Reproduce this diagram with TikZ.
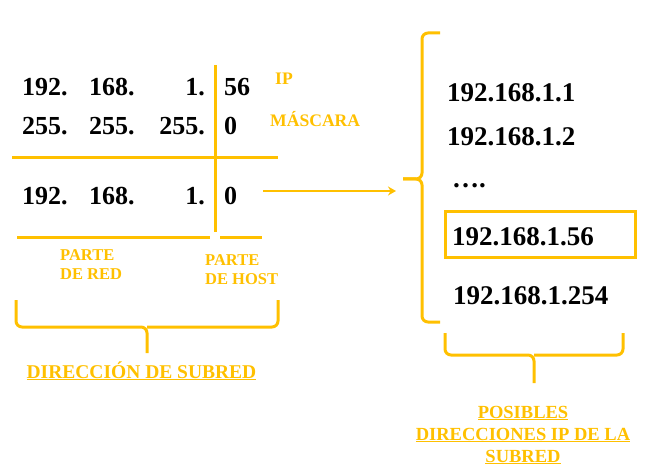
\documentclass[tikz,border=0pt]{standalone}
\usepackage{fontspec}
\setmainfont{Liberation Serif}
\usetikzlibrary{arrows.meta}
\definecolor{gold}{HTML}{FFC000}
\tikzset{
  gl/.style={draw=gold, line width=3pt},
  br/.style={draw=gold, line width=3pt, rounded corners=6pt},
  num/.style={inner sep=0pt, font=\fontsize{26}{30}\selectfont\bfseries, text=black},
  rnum/.style={inner sep=0pt, font=\fontsize{27}{30}\selectfont\bfseries, text=black},
  lab/.style={inner sep=0pt, font=\fontsize{17.6}{20}\selectfont\bfseries, text=gold},
  plab/.style={inner sep=0pt, font=\fontsize{16.5}{20}\selectfont\bfseries, text=gold, align=left},
}
\begin{document}
\begin{tikzpicture}[x=1pt,y=-1pt]
\useasboundingbox (0,0) rectangle (646,468);
% left table
\node[num, anchor=base west] (a1) at (22,96) {192.};
\node[num, anchor=base west] (a2) at (89,96) {168.};
\node[num, anchor=base east] (a3) at (205,96) {1.};
\node[num, anchor=base west] (a4) at (224,96) {56};
\node[num, anchor=base west] (b1) at (22,135) {255.};
\node[num, anchor=base west] (b2) at (89,135) {255.};
\node[num, anchor=base east] (b3) at (205,135) {255.};
\node[num, anchor=base west] (b4) at (224,135) {0};
\node[num, anchor=base west] (c1) at (22,205) {192.};
\node[num, anchor=base west] (c2) at (89,205) {168.};
\node[num, anchor=base east] (c3) at (205,205) {1.};
\node[num, anchor=base west] (c4) at (224,205) {0};
\node[lab, anchor=base west] (ip) at (275,85) {IP};
\node[lab, anchor=base west] (mask) at (270,127) {MÁSCARA};
% lines
\coordinate (vt) at (215,65);
\coordinate (vb) at (215,232);
\draw[gl] (vt) -- (vb);
\coordinate (hl) at (12,158);
\coordinate (hr) at (278,158);
\draw[gl] (hl) -- (hr);
\coordinate (r1) at (17,238);
\coordinate (r2) at (210,238);
\coordinate (h1) at (220,238);
\coordinate (h2) at (262,238);
\draw[gl] (r1) -- (r2);
\draw[gl] (h1) -- (h2);
\node[plab, anchor=north west] (pred) at (60,249) {PARTE\\[-1pt]DE RED};
\node[plab, anchor=north west] (phost) at (205,254) {PARTE\\[-1pt]DE HOST};
% bottom-left brace
\coordinate (bl1) at (16,300);
\coordinate (bl2) at (278,300);
\coordinate (blm) at (147,327);
\coordinate (blt) at (147,353);
\draw[br] (bl1) |- (blm) -- (blt);
\draw[br] (bl2) |- (blm);
\node[inner sep=0pt, anchor=base, font=\fontsize{19.5}{22}\selectfont\bfseries, text=gold] (dsub) at (141.5,378) {\underline{DIRECCIÓN DE SUBRED}};
% arrow
\coordinate (as) at (263,191);
\coordinate (ae) at (396,191);
\draw[draw=gold, line width=2.8pt, -{Stealth[length=8pt,width=9pt]}] (as) -- (ae);
% right brace
\coordinate (rt) at (440,33);
\coordinate (rm) at (422,179);
\coordinate (rtip) at (403,179);
\coordinate (rb) at (440,322);
\draw[br] (rt) -| (rm) -- (rtip);
\draw[br] (rtip) -- (rm) |- (rb);
% right list
\node[rnum, anchor=base west] (l1) at (447,102) {192.168.1.1};
\node[rnum, anchor=base west] (l2) at (447,146) {192.168.1.2};
\node[rnum, anchor=base west] (l3) at (452,188) {….};
\node[rnum, anchor=base west] (l4) at (452,246) {192.168.1.56};
\node[rnum, anchor=base west] (l5) at (453,304) {192.168.1.254};
\draw[draw=gold, line width=3pt] (445,212) rectangle (635,258);
% bottom-right brace
\coordinate (bb1) at (445,333);
\coordinate (bb2) at (623,333);
\coordinate (bbm) at (534,355);
\coordinate (bbt) at (534,383);
\draw[br] (bb1) |- (bbm) -- (bbt);
\draw[br] (bb2) |- (bbm);
\node[inner sep=0pt, anchor=base, font=\fontsize{18.5}{22}\selectfont\bfseries, text=gold] (p1) at (523,418) {\underline{POSIBLES}};
\node[inner sep=0pt, anchor=base, font=\fontsize{18.5}{22}\selectfont\bfseries, text=gold] (p2) at (523,440) {\underline{DIRECCIONES IP DE LA}};
\node[inner sep=0pt, anchor=base, font=\fontsize{18.5}{22}\selectfont\bfseries, text=gold] (p3) at (523,462) {\underline{SUBRED}};
\end{tikzpicture}
\end{document}
